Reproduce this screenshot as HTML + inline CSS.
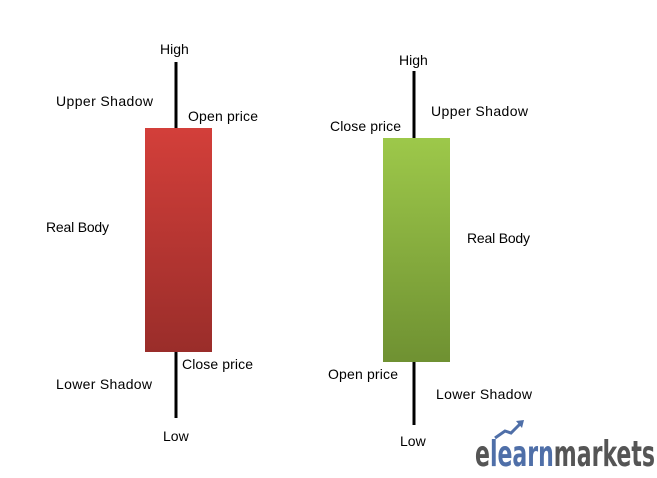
<!DOCTYPE html>
<html><head><meta charset="utf-8"><style>
body{margin:0;background:#fff;}
svg{display:block;font-family:"Liberation Sans",Calibri,sans-serif;}
</style></head><body>
<svg id="chart" width="657" height="478" viewBox="0 0 657 478">
<defs>
<linearGradient id="gr" x1="0" y1="0" x2="0" y2="1"><stop offset="0" stop-color="#d33f3a"/><stop offset="1" stop-color="#9a2d2a"/></linearGradient>
<linearGradient id="gg" x1="0" y1="0" x2="0" y2="1"><stop offset="0" stop-color="#9dc84a"/><stop offset="1" stop-color="#6f9132"/></linearGradient>
</defs>
<g id="marks"></g>
<g font-size="14" fill="#000">
<text x="160" y="54">High</text>
<text x="56" y="106" textLength="97">Upper Shadow</text>
<text x="188" y="121" textLength="70">Open price</text>
<text x="46" y="232" textLength="63">Real Body</text>
<text x="182" y="369" textLength="71">Close price</text>
<text x="56" y="389" textLength="96">Lower Shadow</text>
<text x="163" y="441">Low</text>
<text x="399" y="65">High</text>
<text x="431" y="116" textLength="97">Upper Shadow</text>
<text x="330" y="131" textLength="71">Close price</text>
<text x="467" y="243" textLength="63">Real Body</text>
<text x="328" y="379" textLength="70">Open price</text>
<text x="436" y="399" textLength="96">Lower Shadow</text>
<text x="400" y="446">Low</text>
</g>
<g>
<text x="475" y="466" font-size="36" font-weight="bold" font-family="'Liberation Sans Narrow','DejaVu Sans Condensed',sans-serif" textLength="180" lengthAdjust="spacingAndGlyphs" fill="#555"><tspan>e</tspan><tspan fill="#4f6fa8">learn</tspan><tspan>markets</tspan></text>
<path d="M495 438 L505 431 L511 433 L520 424" stroke="#4f6fa8" stroke-width="3" fill="none"/>
<path d="M516 421 L524 420 L522 428 Z" fill="#4f6fa8"/>
</g>
</svg>
<script>
const candleNames = ["bearish", "bullish"];
const opens = [372, 138];
const highs = [438, 429];
const lows = [82, 75];
const closes = [148, 362];
const xCenters = [178, 416];
const bodyW = 67;
function y(v){ return 500 - v; }
const g = document.getElementById('marks');
const NS = 'http://www.w3.org/2000/svg';
for (let i = 0; i < opens.length; i++) {
  const w = document.createElementNS(NS, 'line');
  
  
  w.setAttribute('x1', xCenters[i] - 2); w.setAttribute('x2', xCenters[i] - 2);
  w.setAttribute('y1', y(highs[i])); w.setAttribute('y2', y(lows[i]));
  w.setAttribute('stroke', '#000'); w.setAttribute('stroke-width', '3');
  g.appendChild(w);
  const r = document.createElementNS(NS, 'rect');
  
  
  const top = y(Math.max(opens[i], closes[i])), bot = y(Math.min(opens[i], closes[i]));
  r.setAttribute('x', xCenters[i] - 33); r.setAttribute('width', bodyW);
  r.setAttribute('y', top); r.setAttribute('height', bot - top);
  r.setAttribute('fill', closes[i] < opens[i] ? 'url(#gr)' : 'url(#gg)');
  g.appendChild(r);
}
</script>
</body></html>
